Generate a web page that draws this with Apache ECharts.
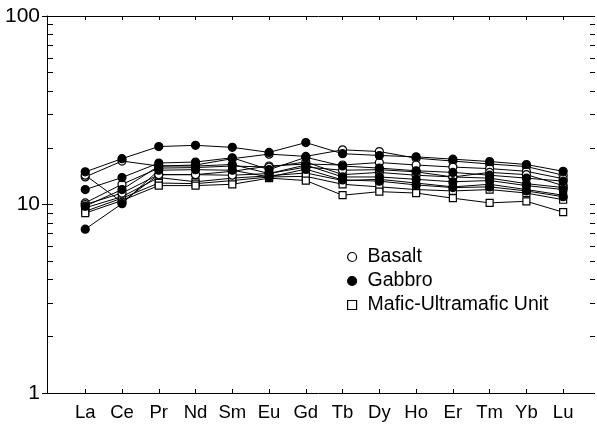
<!DOCTYPE html>
<html>
<head>
<meta charset="utf-8">
<script src="https://cdn.jsdelivr.net/npm/echarts@6/dist/echarts.min.js"></script>
<style>
  html, body { margin: 0; padding: 0; background: #fff; }
  #chart { width: 597px; height: 430px; }
</style>
</head>
<body>
<div id="chart"></div>
<script>
// REE elements (x categories)
const elements = ['La', 'Ce', 'Pr', 'Nd', 'Sm', 'Eu', 'Gd', 'Tb', 'Dy', 'Ho', 'Er', 'Tm', 'Yb', 'Lu'];

// chondrite-normalised values
const basalt1 = [14.0, 17.0, 16.0, 16.2, 17.5, 18.5, 18.0, 19.5, 19.1, 17.6, 17.0, 16.4, 15.9, 14.3];
const basalt2 = [14.3, 10.3, 14.4, 14.4, 15.0, 16.0, 16.4, 16.2, 16.7, 16.2, 15.8, 15.5, 15.0, 13.7];
const basalt3 = [10.2, 12.8, 15.6, 15.7, 16.0, 15.8, 16.8, 14.4, 14.8, 14.3, 14.0, 14.8, 14.4, 12.6];
const basalt4 = [10.0, 11.5, 14.4, 14.4, 14.3, 14.6, 15.8, 15.2, 15.3, 14.9, 14.0, 13.8, 12.9, 12.3];

const gabbro1 = [14.9, 17.5, 20.3, 20.6, 20.1, 18.9, 21.3, 18.6, 18.2, 17.9, 17.4, 16.9, 16.3, 15.0];
const gabbro2 = [12.0, 13.9, 16.6, 16.8, 17.7, 15.3, 17.8, 16.0, 15.6, 15.1, 14.8, 14.3, 13.8, 13.3];
const gabbro3 = [9.8, 12.0, 16.0, 16.0, 16.3, 14.6, 16.2, 14.0, 14.0, 13.6, 13.2, 13.4, 12.6, 12.0];
const gabbro4 = [7.4, 10.1, 15.2, 15.3, 15.2, 14.0, 15.4, 13.5, 13.3, 12.7, 12.3, 12.4, 11.8, 11.0];

const mafic1 = [9.6, 11.0, 13.9, 13.2, 13.8, 14.2, 14.7, 13.4, 13.6, 13.0, 12.4, 12.8, 12.0, 11.2];
const mafic2 = [9.2, 10.8, 13.0, 12.9, 13.4, 14.0, 14.1, 12.8, 12.4, 12.0, 11.8, 12.0, 11.5, 10.6];
const mafic3 = [9.0, 10.5, 12.6, 12.6, 12.8, 13.8, 13.4, 11.2, 11.7, 11.5, 10.8, 10.2, 10.4, 9.1];

const yMajor = [1, 10, 100];
const yMinor = [2, 3, 4, 5, 6, 7, 8, 9, 20, 30, 40, 50, 60, 70, 80, 90];
const yAll = yMinor.concat(yMajor);

const FONT = 'Liberation Sans, Arial, sans-serif';

const styles = {
  'Basalt': { symbol: 'circle', symbolSize: 8, fill: '#fff' },
  'Gabbro': { symbol: 'circle', symbolSize: 8, fill: '#000' },
  'Mafic-Ultramafic Unit': { symbol: 'rect', symbolSize: 7, fill: '#fff' }
};

function makeSeries(name, values) {
  const s = styles[name];
  return {
    name: name,
    type: 'line',
    xAxisIndex: 0,
    yAxisIndex: 0,
    data: values.map((v, i) => [i, v]),
    symbol: s.symbol,
    symbolSize: s.symbolSize,
    lineStyle: { color: '#000', width: 1 },
    itemStyle: { color: s.fill, borderColor: '#000', borderWidth: 1.2 },
    emphasis: { disabled: true },
    animation: false,
    z: name === 'Gabbro' ? 3 : 2
  };
}

const idx = elements.map((_, i) => i);
const gridBox = { left: 47, right: 7, top: 16, bottom: 37 };
const logAxis = { type: 'log', logBase: 10, min: 1, max: 100, splitLine: { show: false } };
const black = { color: '#000', width: 1 };

const chart = echarts.init(document.getElementById('chart'));

const option = {
  backgroundColor: '#fff',
  animation: false,
  grid: [Object.assign({}, gridBox), Object.assign({}, gridBox)],
  legend: {
    orient: 'vertical',
    left: 342,
    top: 242,
    itemGap: 4,
    itemWidth: 9,
    itemHeight: 9,
    textStyle: { fontFamily: FONT, fontSize: 19.5, color: '#000', padding: [0, 0, 0, 6] },
    data: [
      { name: 'Basalt', icon: 'circle', itemStyle: { color: '#fff', borderColor: '#000', borderWidth: 1.2 } },
      { name: 'Gabbro', icon: 'circle', itemStyle: { color: '#000', borderColor: '#000', borderWidth: 1.2 } },
      { name: 'Mafic-Ultramafic Unit', icon: 'rect', itemStyle: { color: '#fff', borderColor: '#000', borderWidth: 1.2 } }
    ]
  },
  xAxis: [
    {
      gridIndex: 0,
      type: 'value',
      min: -1.04,
      max: 13.73,
      position: 'bottom',
      splitLine: { show: false },
      axisLine: { show: true, onZero: false, lineStyle: black },
      axisTick: { show: true, inside: true, length: 4, customValues: idx, lineStyle: black },
      axisLabel: {
        customValues: idx,
        formatter: (v) => elements[Math.round(v)],
        fontFamily: FONT, fontSize: 18.5, color: '#000', margin: 10
      }
    },
    // top frame line with ticks, on the overlay grid
    {
      gridIndex: 1,
      type: 'value',
      min: -1.04,
      max: 13.73,
      position: 'top',
      splitLine: { show: false },
      axisLine: { show: true, onZero: false, lineStyle: black },
      axisTick: { show: true, inside: true, length: 4, customValues: idx, lineStyle: black },
      axisLabel: { show: false }
    }
  ],
  yAxis: [
    // left: minor and major ticks inside, labels at decades
    Object.assign({}, logAxis, {
      gridIndex: 0,
      position: 'left',
      axisLine: { show: true, onZero: false, lineStyle: black },
      axisTick: { show: true, inside: true, length: 6, customValues: yAll, lineStyle: black },
      axisLabel: { customValues: yMajor, fontFamily: FONT, fontSize: 21, color: '#000', margin: 7 }
    }),
    // right: ticks only, pointing out
    Object.assign({}, logAxis, {
      gridIndex: 0,
      position: 'right',
      axisLine: { show: false, onZero: false },
      axisTick: { show: true, length: 5, customValues: yAll, lineStyle: black },
      axisLabel: { show: false }
    }),
    // left: decade ticks crossing outward
    Object.assign({}, logAxis, {
      gridIndex: 1,
      position: 'left',
      axisLine: { show: false, onZero: false },
      axisTick: { show: true, length: 5, customValues: yMajor, lineStyle: black },
      axisLabel: { show: false }
    })
  ],
  series: [
    makeSeries('Mafic-Ultramafic Unit', mafic1),
    makeSeries('Mafic-Ultramafic Unit', mafic2),
    makeSeries('Mafic-Ultramafic Unit', mafic3),
    makeSeries('Basalt', basalt1),
    makeSeries('Basalt', basalt2),
    makeSeries('Basalt', basalt3),
    makeSeries('Basalt', basalt4),
    makeSeries('Gabbro', gabbro1),
    makeSeries('Gabbro', gabbro2),
    makeSeries('Gabbro', gabbro3),
    makeSeries('Gabbro', gabbro4)
  ]
};

chart.setOption(option);
</script>
</body>
</html>
